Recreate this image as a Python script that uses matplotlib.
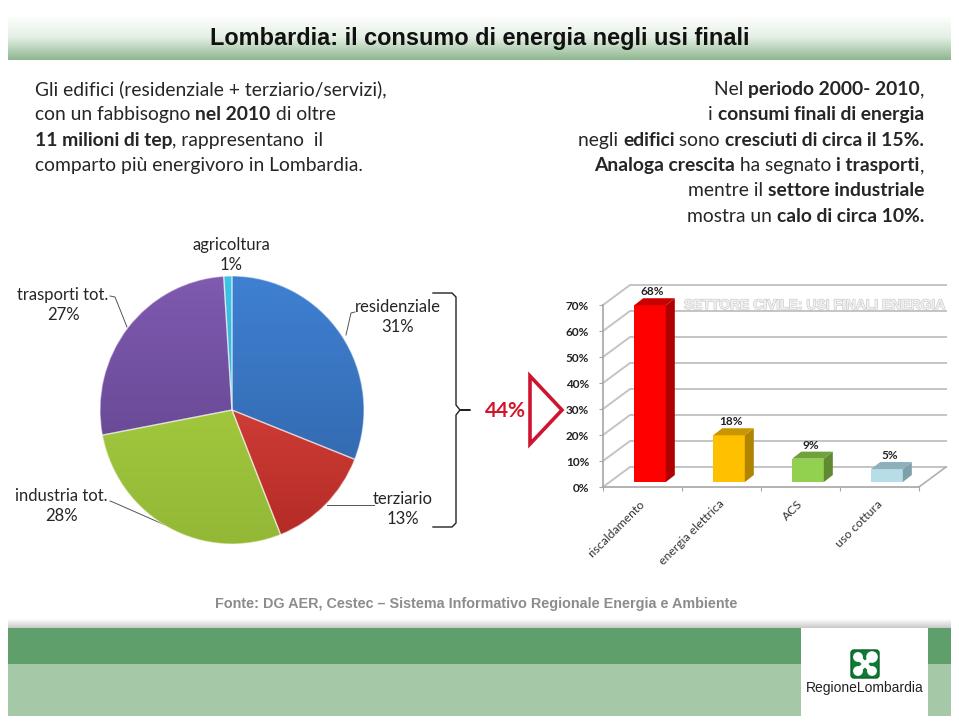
# Lombardia slide: pie of final energy use + fake 3D bars for the civil sector
import numpy as np
import matplotlib
matplotlib.use("Agg")
import matplotlib.pyplot as plt
import matplotlib.patheffects as pe
from matplotlib.colors import LinearSegmentedColormap
from matplotlib.patches import Rectangle, FancyBboxPatch, Polygon

W, H = 959, 727

# pie data
pie_names = ["residenziale", "terziario", "industria tot.", "trasporti tot.", "agricoltura"]
pie_values = [31, 13, 28, 27, 1]
pie_light = ["#3f80d2", "#e84f45", "#afd646", "#7f5ab0", "#3fc4e6"]
pie_dark = ["#2f62a4", "#b42a26", "#93b836", "#5c3f86", "#2a9cc0"]

# bar data
bar_names = ["riscaldamento", "energia elettrica", "ACS", "uso cottura"]
bar_values = [68, 18, 9, 5]
bar_front = ["#ff0000", "#ffc000", "#92d050", "#b7dde8"]
bar_side = ["#b00000", "#b08400", "#5f8a32", "#7fa0aa"]
bar_top = ["#c80000", "#c89600", "#6fa23a", "#8fb0ba"]
y_ticks = [0, 10, 20, 30, 40, 50, 60, 70]

title = "Lombardia: il consumo di energia negli usi finali"
fonte = "Fonte: DG AER, Cestec – Sistema Informativo Regionale Energia e Ambiente"

# (text, bold) runs per line
left_lines = [
    [("Gli edifici (residenziale + terziario/servizi),", False)],
    [("con un fabbisogno ", False), ("nel 2010", True), (" di oltre", False)],
    [("11 milioni di tep", True), (", rappresentano  il", False)],
    [("comparto più energivoro in Lombardia.", False)],
]
right_lines = [
    [("Nel ", False), ("periodo 2000- 2010", True), (",", False)],
    [("i ", False), ("consumi finali di energia", True)],
    [("negli ", False), ("edifici", True), (" sono ", False), ("cresciuti di circa il 15%.", True)],
    [("Analoga crescita", True), (" ha segnato ", False), ("i trasporti", True), (",", False)],
    [("mentre il ", False), ("settore industriale", True)],
    [("mostra un ", False), ("calo di circa 10%.", True)],
]

plt.rcParams["font.family"] = ["Lato", "DejaVu Sans"]
fig = plt.figure(figsize=(W / 100, H / 100), dpi=100, facecolor="white")

# page layer in pixel coordinates
page = fig.add_axes([0, 0, 1, 1])
page.set_xlim(0, W)
page.set_ylim(H, 0)
page.axis("off")


def vgrad(ax, x0, x1, y0, y1, colors, z=1):
    cmap = LinearSegmentedColormap.from_list("g", colors)
    ax.imshow(np.linspace(0, 1, 128).reshape(-1, 1), cmap=cmap, aspect="auto",
              extent=(x0, x1, y1, y0), zorder=z, interpolation="bilinear")


vgrad(page, 8, 951, 15, 60, ["#ffffff", "#e4efe4", "#8db78f"])
page.text(480, 38, title, ha="center", va="center", family="Liberation Sans",
          weight="bold", fontsize=16.9, color="#111111")

# footer
vgrad(page, 8, 951, 619, 628, ["#ffffff", "#c8c8c8"])
page.add_patch(Rectangle((8, 628), 943, 36, fc="#5f9f6c", ec="none", zorder=2))
page.add_patch(Rectangle((8, 664), 943, 52, fc="#a5c8a6", ec="none", zorder=2))
page.add_patch(Rectangle((801, 628), 127, 90, fc="white", ec="none", zorder=3))
page.add_patch(FancyBboxPatch((851, 650), 28, 28, boxstyle="round,pad=0,rounding_size=3",
                              fc="#0f7a35", ec="#0b6029", lw=1, zorder=4))
page.plot([858, 872], [657, 671], color="white", lw=3.5, zorder=5)
page.plot([872, 858], [657, 671], color="white", lw=3.5, zorder=5)
page.scatter([858, 872, 858, 872], [657, 657, 671, 671], s=[50, 70, 50, 50],
             c="white", zorder=5, linewidths=0)
page.text(865, 688, "RegioneLombardia", ha="center", va="center", family="Liberation Sans",
          fontsize=10, color="#222222", zorder=5)
page.text(476, 604, fonte, ha="center", va="center", family="Liberation Sans", weight="bold",
          fontsize=10.4, color="#8c8c8c")


def text_width(s, size, bold):
    # sentinel so leading/trailing spaces get counted
    r = fig.canvas.get_renderer()
    w = "bold" if bold else "normal"
    a = page.text(0, 0, "|" + s + "|", fontsize=size, weight=w)
    b = page.text(0, 0, "||", fontsize=size, weight=w)
    out = a.get_window_extent(r).width - b.get_window_extent(r).width
    a.remove()
    b.remove()
    return out


def draw_runs(lines, x, y0, step, size, right=False):
    for i, runs in enumerate(lines):
        widths = [text_width(t, size, b) for t, b in runs]
        cx = x - sum(widths) if right else x
        for (t, b), w in zip(runs, widths):
            page.text(cx, y0 + i * step, t, ha="left", va="baseline", fontsize=size,
                      weight="bold" if b else "normal", color="#262626")
            cx += w


draw_runs(left_lines, 35, 95, 25.3, 13.9)
draw_runs(right_lines, 924, 95, 25.3, 13.9, right=True)

# pie
pie_ax = fig.add_axes([(232 - 132) / W, 1 - (410 + 134) / H, 264 / W, 268 / H])
wedges, _ = pie_ax.pie(pie_values, startangle=90, counterclock=False, radius=1)
pie_ax.patch.set_alpha(0)
for wedge, c0, c1 in zip(wedges, pie_light, pie_dark):
    wedge.set_facecolor("none")
    wedge.set_edgecolor((1, 1, 1, 0.45))
    wedge.set_linewidth(1)
    wedge.set_zorder(2)
    cmap = LinearSegmentedColormap.from_list("w", [c0, c1])
    im = pie_ax.imshow(np.linspace(0, 1, 128).reshape(-1, 1), cmap=cmap, aspect="auto",
                       extent=(-1, 1, -1, 1), origin="upper", zorder=1)
    im.set_clip_path(wedge)
pie_ax.set_aspect("auto")
pie_ax.set_xlim(-1, 1)
pie_ax.set_ylim(-1, 1)

pie_label_pos = [(398, 317), (403, 509), (61, 506), (63, 305), (231, 255)]
for name, val, (px, py) in zip(pie_names, pie_values, pie_label_pos):
    page.text(px, py, f"{name}\n{val}%", ha="center", va="center", fontsize=12,
              color="#262626", linespacing=1.35, zorder=6)

leaders = [
    ([355, 351, 346], [312, 313, 335]),
    ([374, 327], [505, 505]),
    ([110, 115, 165], [501, 503, 525]),
    ([110, 115, 127], [296, 297, 327]),
]
for lx, ly in leaders:
    page.plot(lx, ly, color="#555555", lw=0.7, zorder=6)

# bracket and arrow
page.plot([433, 452, 456, 456, 460, 470, 460, 456, 456, 452, 433],
          [293, 293, 297, 405, 410, 410, 410, 415, 523, 527, 527],
          color="#222222", lw=1, zorder=6)
page.text(505, 411, "44%", ha="center", va="center", fontsize=15, weight="bold", color="#d2152b")
page.add_patch(Polygon([(530, 376), (530, 444), (562, 410)], closed=True, fc="none",
                       ec="#cf1430", lw=2.6, zorder=6))

# 3D looking bars, one unit on y is 2.6 px, one category is 79 px
ax = fig.add_axes([603 / W, 1 - 487 / H, 316 / W, 182 / H])
ax.patch.set_alpha(0)
ax.set_xlim(0, len(bar_names))
ax.set_ylim(0, 70)
for s in ["top", "right"]:
    ax.spines[s].set_visible(False)
for s in ["left", "bottom"]:
    ax.spines[s].set_color("#a6a6a6")
    ax.spines[s].set_linewidth(1.2)

wall_dx, wall_dy = 0.342, 7.7
for t in y_ticks:
    ax.plot([0, wall_dx, len(bar_names) + wall_dx], [t, t + wall_dy, t + wall_dy],
            color="#c4c4c4", lw=1.4, clip_on=False, zorder=1)
ax.plot([len(bar_names), len(bar_names) + wall_dx], [0, wall_dy], color="#b0b0b0", lw=1.2,
        clip_on=False, zorder=1)

# washed out chart title sitting just above the 60% grid line
ghost = ax.text(814, 305, "SETTORE CIVILE: USI FINALI ENERGIA", ha="center", va="center",
                transform=page.transData, family="Liberation Sans", weight="bold",
                fontsize=10, color="#f0f0f0", zorder=2, clip_on=False)
ghost.set_path_effects([pe.Stroke(linewidth=0.8, foreground="#c6c6c6"), pe.Normal()])

x_pos = np.arange(len(bar_names)) + 0.5
offset, base, bw = 0.095, 1.9, 0.4
dep_x, dep_y = 0.114, 2.7
ax.bar(x_pos + offset, bar_values, bottom=base, width=bw, color=bar_front, zorder=4)
for xp, v, side, top in zip(x_pos + offset, bar_values, bar_side, bar_top):
    l, r = xp - bw / 2, xp + bw / 2
    t = v + base
    ax.fill([r, r + dep_x, r + dep_x, r], [base, base + dep_y, t + dep_y, t], color=side, lw=0,
            clip_on=False, zorder=4)
    ax.fill([l, r, r + dep_x, l + dep_x], [t, t, t + dep_y, t + dep_y], color=top, lw=0,
            clip_on=False, zorder=4)
    ax.text(xp + 0.03, t + dep_y + 0.3, f"{v}%", ha="center", va="bottom", fontsize=8.5,
            weight="bold", color="#222222", clip_on=False, zorder=8)

ax.set_yticks(y_ticks)
ax.set_yticklabels([f"{t}%" for t in y_ticks], fontsize=8.5, weight="bold", color="#222222")
ax.set_xticks(range(len(bar_names) + 1))
ax.set_xticklabels([""] * (len(bar_names) + 1))
ax.tick_params(axis="y", length=3, color="#a6a6a6", pad=7)
ax.tick_params(axis="x", length=3, color="#a6a6a6", pad=2)
for xp, name in zip(x_pos, bar_names):
    ax.annotate(name, (xp - 0.04, 0), xytext=(0, -8), textcoords="offset points", rotation=45,
                ha="right", va="top", rotation_mode="anchor", fontsize=8.8, color="#333333")

fig.savefig("out.png", dpi=100)
